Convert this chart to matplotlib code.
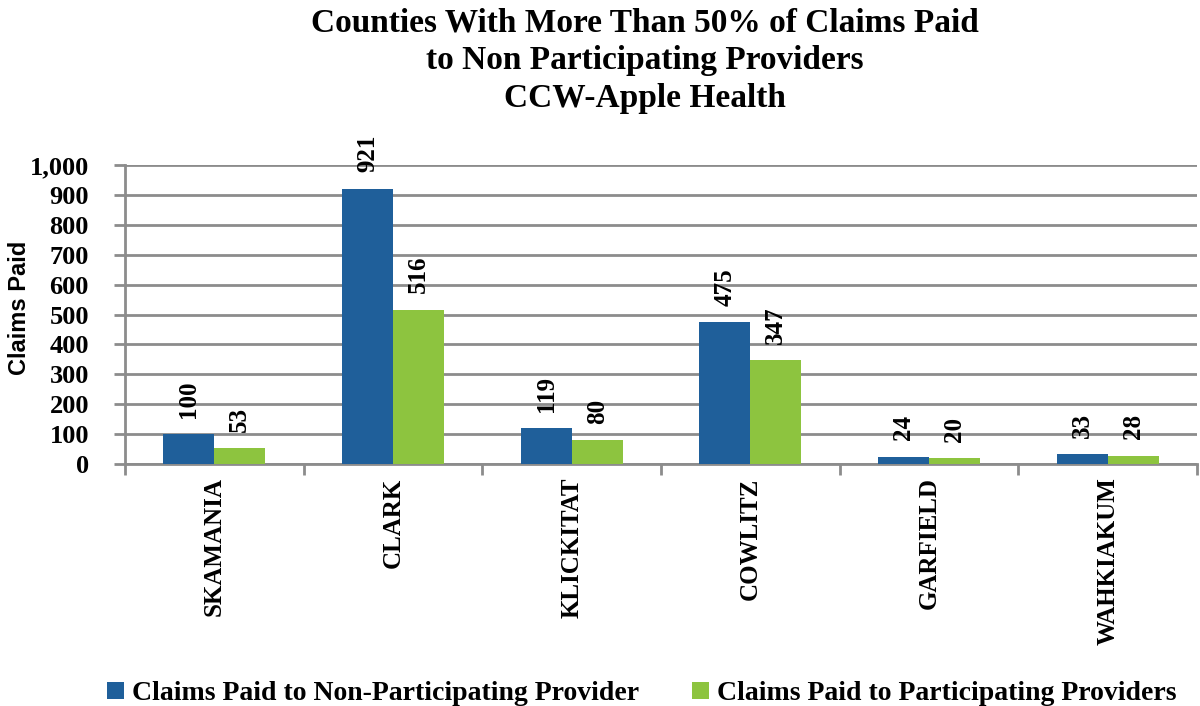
import numpy as np
import matplotlib.pyplot as plt

# data
counties = ["SKAMANIA", "CLARK", "KLICKITAT", "COWLITZ", "GARFIELD", "WAHKIAKUM"]
non_part = [100, 921, 119, 475, 24, 33]
part = [53, 516, 80, 347, 20, 28]
series_names = ["Claims Paid to Non-Participating Provider",
                "Claims Paid to Participating Providers"]

blue = "#1F5F9A"
green = "#8DC43F"
serif = ["Liberation Serif", "DejaVu Serif"]

fig = plt.figure(figsize=(12, 7.06), dpi=100)
ax = fig.add_axes([125/1200, 1-464/706, 1072/1200, 299/706])

x = np.arange(len(counties))
w = 0.285
b1 = ax.bar(x - w/2, non_part, w, color=blue, zorder=3)
b2 = ax.bar(x + w/2, part, w, color=green, zorder=3)

for bars, vals in ((b1, non_part), (b2, part)):
    for r, v in zip(bars, vals):
        ax.text(r.get_x() + r.get_width()/2, v + 55, f"{v:,}", rotation=90,
                ha="center", va="bottom", fontsize=18, fontweight="bold",
                family=serif)

ax.set_xlim(-0.5, len(counties) - 0.5)
ax.set_ylim(0, 1000)
ax.set_yticks(np.arange(0, 1001, 100))
ax.set_yticklabels([f"{t:,}" for t in range(0, 1001, 100)],
                   fontsize=19, fontweight="bold", family=serif)
ax.yaxis.grid(True, color="#8c8c8c", linewidth=2, zorder=0)
ax.tick_params(axis="y", length=8, width=2, color="#8c8c8c", pad=18)

ax.set_xticks(np.arange(len(counties) + 1) - 0.5)
ax.set_xticklabels([])
ax.tick_params(axis="x", length=8, width=2, color="#8c8c8c")
for i, c in enumerate(counties):
    ax.text(i, -0.045, c, transform=ax.get_xaxis_transform(), rotation=90,
            ha="center", va="top", fontsize=18, fontweight="bold", family=serif)

for s in ("top", "right"):
    ax.spines[s].set_visible(False)
for s in ("left", "bottom"):
    ax.spines[s].set_color("#8c8c8c")
    ax.spines[s].set_linewidth(2)

fig.text(20/1200, 1-308/706, "Claims Paid", rotation=90, ha="center",
         va="center", fontsize=17, fontweight="bold",
         family=["Liberation Sans", "DejaVu Sans"])

fig.suptitle("Counties With More Than 50% of Claims Paid\n"
             "to Non Participating Providers\nCCW-Apple Health",
             x=645/1200, y=0.99, fontsize=24, fontweight="bold", family=serif,
             linespacing=1.3)

fig.legend([b1, b2], series_names, loc="lower center", ncol=2,
           bbox_to_anchor=(0.535, -0.036), frameon=False,
           prop={"family": serif, "weight": "bold", "size": 20},
           handlelength=0.6, handleheight=0.6, handletextpad=0.3,
           columnspacing=1.9)

fig.savefig("out.png", dpi=100)
